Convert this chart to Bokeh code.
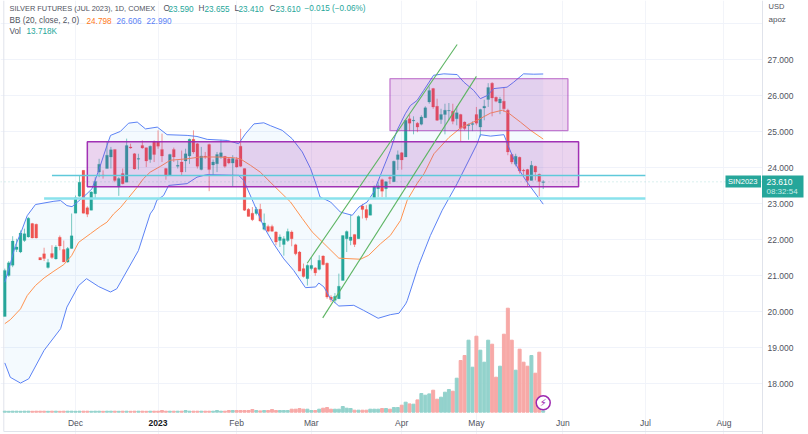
from bokeh.plotting import figure
from bokeh.embed import file_html
from bokeh.resources import INLINE
from bokeh.models import (Range1d, FixedTicker, Label, BoxAnnotation, NumeralTickFormatter,
                          ColumnDataSource)
from bokeh.core.properties import value

opens = [19.87,21.01,21.29,21.73,21.66,21.98,22.08,22.45,22.43,21.51,21.61,21.23,21.62,21.47,22.07,21.73,21.38,21.76,22.74,23.21,
 23.93,22.89,22.82,23.28,23.88,23.80,23.98,24.30,24.51,23.47,23.84,23.60,24.58,24.39,24.24,24.62,24.56,24.23,24.72,24.72,
 24.51,23.98,23.79,24.51,24.04,24.16,24.19,24.33,24.79,24.67,23.95,24.32,24.65,24.08,24.11,24.30,24.32,24.25,24.13,24.23,
 24.60,23.98,22.85,22.74,22.73,22.85,22.29,22.37,22.37,22.22,21.98,21.87,21.98,22.22,21.86,21.66,21.20,20.92,21.20,21.22,
 21.18,21.55,21.35,20.41,20.32,20.36,20.87,22.03,21.98,22.15,22.03,22.94,22.84,22.68,23.14,23.42,23.67,23.42,23.73,23.61,
 24.23,24.42,24.30,25.36,25.30,25.24,25.21,25.39,25.83,26.20,25.71,25.34,25.48,25.58,25.57,25.36,25.48,25.27,25.17,25.20,
 25.48,25.13,25.66,25.90,26.35,25.96,25.80,25.85,25.60,24.37,24.10,24.29,23.93,23.95,23.65,24.04,23.82,23.59]
highs = [21.20,21.41,22.10,22.03,22.26,22.31,22.63,22.47,22.45,21.51,21.78,21.47,21.85,21.85,22.12,21.98,21.80,22.73,23.23,23.79,
 23.93,22.93,23.35,23.74,24.25,23.93,24.72,24.58,24.51,23.74,23.98,24.81,24.67,24.41,24.39,24.76,24.56,24.62,24.76,25.04,
 24.95,24.00,24.39,24.56,24.21,24.48,24.53,24.81,25.04,24.69,24.58,24.44,24.67,24.23,24.44,24.78,24.32,24.28,24.35,24.30,
 25.08,23.98,22.88,22.91,22.91,23.00,22.73,22.42,22.42,22.24,22.15,22.10,22.31,22.26,21.89,21.69,21.34,21.32,21.52,21.24,
 21.57,21.57,21.37,20.46,20.52,21.06,22.12,22.26,22.70,22.15,22.68,23.00,22.96,23.00,23.51,23.60,23.70,23.63,23.77,24.20,
 24.48,24.44,25.32,25.48,25.43,25.27,25.46,25.71,26.26,26.22,25.92,25.64,25.78,25.80,25.78,25.71,25.50,25.29,25.23,25.29,
 25.69,25.64,25.89,26.35,26.38,25.98,25.97,26.24,25.64,24.39,24.39,24.31,23.97,23.97,24.19,24.06,23.84,23.655]
lows = [19.87,20.97,21.24,21.66,21.63,21.94,22.06,22.04,22.04,21.44,21.41,21.20,21.47,21.45,21.71,21.38,21.36,21.75,22.74,23.19,
 22.73,22.63,22.82,23.14,23.74,23.70,23.98,23.98,23.60,23.22,23.54,23.60,24.53,23.95,23.95,24.53,24.02,24.14,24.16,24.53,
 24.16,23.67,23.79,24.16,23.98,23.79,23.88,24.11,24.39,23.98,23.93,24.25,23.35,23.79,23.88,24.25,24.00,24.10,23.48,24.00,
 24.02,22.80,22.65,22.52,22.68,22.49,22.26,22.21,22.22,21.85,21.80,21.56,21.94,21.82,21.57,21.13,20.95,20.73,21.15,21.00,
 21.15,21.29,20.36,20.27,20.24,20.36,20.87,21.66,21.85,21.80,22.03,22.59,22.54,22.68,23.14,23.19,23.19,23.17,23.55,23.61,
 23.94,23.95,24.30,25.02,24.93,24.99,25.18,25.39,25.78,25.64,25.30,25.22,24.93,25.32,25.21,25.18,24.74,25.04,24.78,25.02,
 25.18,24.86,25.32,25.69,25.43,25.82,25.49,25.55,24.35,24.10,24.04,23.84,23.79,23.49,23.65,23.65,23.21,23.41]
closes = [21.15,21.36,21.97,21.80,22.19,22.17,22.60,22.05,22.05,21.44,21.48,21.37,21.51,21.80,21.83,21.38,21.76,22.11,23.17,23.60,
 22.74,22.71,23.33,23.62,24.10,23.78,24.35,24.50,23.65,23.70,23.56,24.62,24.55,23.97,24.26,24.55,24.19,24.60,24.37,24.60,
 24.33,23.79,24.37,24.30,24.07,23.88,24.39,24.79,24.44,24.04,24.33,24.30,23.95,24.16,24.37,24.42,24.04,24.13,24.26,24.02,
 24.04,22.82,22.65,22.56,22.85,22.52,22.47,22.24,22.24,21.94,22.08,22.03,22.23,22.03,21.61,21.13,20.98,21.29,21.29,21.08,
 21.43,21.31,20.41,20.34,20.43,20.71,22.12,22.23,22.08,21.87,22.65,22.84,22.61,22.98,23.47,23.50,23.35,23.61,23.70,24.18,
 24.36,24.22,25.32,25.24,25.32,25.13,25.41,25.67,26.15,25.69,25.32,25.48,25.60,25.59,25.29,25.53,25.10,25.09,25.20,25.23,
 25.24,25.62,25.71,26.23,25.94,25.85,25.91,25.64,24.44,24.16,24.32,23.91,23.91,23.65,24.07,23.88,23.62,23.61]
volumes_k = [10,9,10,10,9,10,10,9,10,10,10,9,10,10,9,10,10,10,9,10,
 10,10,9,10,10,9,10,10,10,9,10,10,9,10,10,10,9,10,10,10,
 17,10,10,10,10,10,17,10,10,10,10,10,10,10,17,10,10,17,17,17,
 17,17,17,27,17,13,17,17,27,17,17,17,17,30,30,37,30,30,17,17,
 30,40,47,30,30,30,57,40,37,20,20,20,20,30,30,30,37,37,30,47,
 47,70,100,83,80,123,187,170,183,220,130,150,200,227,210,340,517,567,720,450,
 760,620,500,720,680,350,460,780,1040,720,420,630,500,460,567,390,600,13.718]

upper_idx = [0,1.4,2.7,4,5.7,7.8,12.5,14.2,15.8,17.1,18.4,20.9,22.2,23.9,26,26.9,29.4,31.5,33.7,35.8,38.8,41.3,46.4,48.9,51.5,56.6,59.5,61.2,63.4,65.9,67.6,70.6,73.1,75.7,77.8,79.3,80.2,82.9,85.4,88.4,90.1,92.2,93.9,95.6,98.1,99.8,101.9,103.2,104.9,106.6,109.1,111.7,115.1,116.8,119.3,121,122.8,124.4,127.8,129.5,132,134.6,137]
upper = [20.82,21.33,21.84,22.17,22.67,22.98,23.07,23.09,22.95,22.92,23.04,23.28,23.42,23.93,24.62,24.90,25.01,25.24,25.27,25.08,25.13,24.92,24.90,24.87,24.79,24.76,24.67,24.94,25.22,25.25,25.17,25.04,24.81,24.44,23.98,23.51,23.19,23.05,22.77,22.68,22.91,23.05,23.33,23.80,24.48,25.04,25.50,25.73,25.87,26.15,26.57,26.61,26.59,26.38,26.15,25.92,26.01,26.20,26.24,26.38,26.61,26.60,26.606]
basis_idx = [0,1.4,4,5.7,7.8,10,12.5,15,17,18.8,21.8,24.3,26,27.7,29.4,30.9,33.6,35.3,37,39.6,42.1,46.4,49.7,54,58.2,59.9,62.5,65,68.4,72.7,75.7,78.2,80.8,85,90.5,92.6,95.6,98.1,100.7,102.4,104.9,106.7,109.2,113,116,120.2,123.6,126.6,128.2,131.2,133.8,137]
basis = [19.67,19.78,20.08,20.45,20.73,20.94,21.13,21.31,21.56,21.93,22.17,22.37,22.49,22.72,22.89,23.09,23.45,23.70,23.88,24.04,24.21,24.25,24.30,24.30,24.28,24.25,24.07,23.88,23.51,23.05,22.59,22.22,21.94,21.49,21.46,21.57,21.89,22.12,22.54,23.10,23.56,23.84,24.39,24.84,25.11,25.32,25.52,25.60,25.52,25.27,25.04,24.798]
lower_idx = [0,1.4,4,6.1,10,14.2,15.8,18.8,20.8,23.9,26.9,28.5,34,37,37.9,38.7,40.4,41.7,46.4,48.9,51.4,59.5,60.8,63.4,65.9,68.4,71,73.5,76.5,79.1,79.9,81.2,82.9,85,88.8,91.3,95,98.1,100.3,102,102.4,105.3,108.3,111.3,115.1,120.2,121,123.6,127,128.2,130.4,132.9,137]
lower = [18.58,18.18,18.02,18.14,18.93,19.53,20.13,20.73,20.92,20.70,20.55,20.64,21.70,22.72,22.86,23.10,23.23,23.51,23.56,23.74,23.81,23.79,23.65,23.00,22.36,21.89,21.47,21.15,20.67,20.69,20.80,20.69,20.36,20.16,20.18,20.04,19.82,19.92,19.96,20.22,20.31,21.29,22.12,22.82,23.56,24.67,24.92,24.88,24.92,24.58,24.02,23.60,22.99]

price_ticks = [18,19,20,21,22,23,24,25,26,27]
grid_prices = [18,19,20,21,22,23,24,25,26,27,28]
date_ticks = [18,39,59,78,101,120,142,163,183]
date_labels = ["Dec","","Feb","Mar","Apr","May","Jun","Jul","Aug"]
box_wide = dict(left=21, right=146, top=24.725, bottom=23.475)
box_high = dict(left=98, right=143.3, top=26.475, bottom=25.03)
support_hi = dict(x0=12, x1=163, y=23.786)
support_lo = dict(x0=10, x1=163, y=23.147)
channel_a = dict(x=[76.95,115.1], y=[21.35,27.425])
channel_b = dict(x=[80.9,120.0], y=[19.83,26.54])
last_close = 23.61

GREEN, RED = "#26a69a", "#ef5350"
W, H = 808, 434
PX_BAR, PX_BAR0, PX_PER_USD, PY_27 = 3.93, 4.3, 36.0, 59.3


def idx_at(px):
    return (px - PX_BAR0) / PX_BAR


def price_at(py):
    return 27 - (py - PY_27) / PX_PER_USD


XMIN, XMAX = idx_at(0), idx_at(W)
AXIS_X = idx_at(762)
n = len(opens)
xs = list(range(n))
up = [c >= o for o, c in zip(opens, closes)]
cols = [GREEN if u else RED for u in up]
vcols = ["#93d2cc" if u else "#f7a9a7" for u in up]
src = ColumnDataSource(dict(x=xs, o=opens, h=highs, l=lows, c=closes, col=cols, v=volumes_k, vcol=vcols,
                            top=[max(a, b) for a, b in zip(opens, closes)],
                            bot=[min(a, b) for a, b in zip(opens, closes)]))

p = figure(width=W, height=H, output_backend="svg", toolbar_location=None,
           x_range=Range1d(XMIN, XMAX), y_range=Range1d(price_at(H), price_at(0)),
           y_axis_location="right", min_border_left=0, min_border_top=0, min_border_right=0,
           min_border_bottom=0, background_fill_color="white", border_fill_color="white")
p.outline_line_color = None
p.extra_y_ranges = {"vol": Range1d((411.7 - H) * 10, 411.7 * 10)}

ax = p.yaxis[0]
ax.fixed_location = AXIS_X
ax.ticker = FixedTicker(ticks=price_ticks)
ax.formatter = NumeralTickFormatter(format="0.000")
ax.axis_line_color = "#e0e3eb"
ax.major_tick_line_color = None
ax.minor_tick_line_color = None
ax.major_label_text_color = "#50535e"
ax.major_label_text_font = "Liberation Sans"
ax.major_label_text_font_size = "8.5px"
ax.major_label_standoff = 5
ax.major_tick_in = 0
ax.major_tick_out = 0

xa = p.xaxis[0]
xa.fixed_location = price_at(412)
xa.ticker = FixedTicker(ticks=date_ticks)
xa.major_label_overrides = dict(zip(date_ticks, date_labels))
xa.axis_line_color = None
xa.major_tick_line_color = None
xa.minor_tick_line_color = None
xa.major_tick_in = 0
xa.major_tick_out = 0
xa.major_label_standoff = 5
xa.major_label_text_color = "#50535e"
xa.major_label_text_font = "Liberation Sans"
xa.major_label_text_font_size = "8.5px"

p.xgrid.ticker = FixedTicker(ticks=date_ticks)
p.ygrid.ticker = FixedTicker(ticks=grid_prices)
p.xgrid.grid_line_color = "#f2f4f9"
p.ygrid.grid_line_color = "#f0f3fa"

p.quad(left=AXIS_X, right=XMAX, top=price_at(0), bottom=price_at(H), fill_color="white", line_color=None)
p.line([idx_at(3.3)] * 2, [price_at(0), price_at(431)], line_color="#e0e3eb", line_width=1)
p.line([idx_at(3.3), AXIS_X], [price_at(431)] * 2, line_color="#e0e3eb", line_width=1)

p.patch(upper_idx + lower_idx[::-1], upper + lower[::-1], fill_color="#2196f3", fill_alpha=0.05, line_color=None)
p.vbar(x="x", top="v", bottom=0, width=0.76, color="vcol", y_range_name="vol", source=src)
p.segment(x0="x", x1="x", y0="l", y1="h", color="col", line_width=1, line_alpha=0.6, source=src)
p.vbar(x="x", top="top", bottom="bot", width=0.72, fill_color="col", line_color="col", line_width=0.2, source=src)
p.line(upper_idx, upper, line_color="#5b82f5", line_width=1)
p.line(lower_idx, lower, line_color="#5b82f5", line_width=1)
p.line(basis_idx, basis, line_color="#ff9350", line_width=1)
p.line([XMIN, AXIS_X], [last_close, last_close], line_color=GREEN, line_alpha=0.35, line_dash="1 3", line_width=1)

p.quad(**box_wide, fill_color="#9c27b0", fill_alpha=0.2, line_color="#9c27b0", line_width=1.5, line_alpha=0.95)
p.quad(**box_high, fill_color="#9c27b0", fill_alpha=0.2, line_color="#9c27b0", line_width=1.3, line_alpha=0.55)
p.line([support_hi["x0"], support_hi["x1"]], [support_hi["y"]] * 2, line_color="#5fc9da", line_width=1.3)
p.line([support_lo["x0"], support_lo["x1"]], [support_lo["y"]] * 2, line_color="#8ae2ec", line_width=2.4)
p.line(channel_a["x"], channel_a["y"], line_color="#5cb462", line_width=1.1)
p.line(channel_b["x"], channel_b["y"], line_color="#5cb462", line_width=1.1)

p.scatter([137], [price_at(402.3)], size=14, marker="circle", fill_color="white", line_color="#9c27b0", line_width=1.5)
p.text([137], [price_at(402.3)], text=["\u26a1"], text_color="#9c27b0", text_font=value("DejaVu Sans"),
       text_font_size="10px", text_align="center", text_baseline="middle")


def lab(text, px, py, color="#50535e", size="8.5px", style="normal", align="left"):
    p.add_layout(Label(x=px, y=H - py, x_units="screen", y_units="screen", text=text,
                       text_color=color, text_font="Liberation Sans", text_font_size=size,
                       text_font_style=style, text_align=align, text_baseline="middle"))


def tag(left, right, top, bottom):
    p.add_layout(BoxAnnotation(left=left, right=right, top=H - top, bottom=H - bottom,
                               left_units="screen", right_units="screen", top_units="screen", bottom_units="screen",
                               fill_color=GREEN, fill_alpha=1, line_color=None))


tag(725, 760.5, 175, 187)
tag(761.5, 803, 175, 197)
lab("SIN2023", 727.5, 181, "white", "7.6px")
lab("23.610", 766, 181, "white")
lab("08:32:54", 766, 191, "#c9ece8", "8px")
lab("USD", 768, 6, size="7.5px")
lab("apoz", 768, 19, size="8px")
lab("2023", 157.5, 422, "#131722", "8.5px", "bold", "center")

lab("SILVER FUTURES (JUL 2023), 1D, COMEX", 9, 8, size="7.4px")
for t, px, c in [("O", 163, "#50535e"), ("23.590", 168, GREEN), ("H", 198, "#50535e"), ("23.655", 204, GREEN),
                 ("L", 234, "#50535e"), ("23.410", 238, GREEN), ("C", 269, "#50535e"), ("23.610", 275, GREEN),
                 ("\u22120.015 (\u22120.06%)", 304, GREEN)]:
    lab(t, px, 8, c, size="8.2px")
lab("BB (20, close, 2, 0)", 9, 20, size="8.2px")
lab("24.798", 86, 20, "#ff7a1a", size="8.2px")
lab("26.606", 116, 20, "#5b82f5", size="8.2px")
lab("22.990", 146, 20, "#5b82f5", size="8.2px")
lab("Vol", 9, 31, size="8.2px")
lab("13.718K", 26, 31, GREEN, size="8.2px")

open("out.html", "w").write(file_html(p, INLINE))
